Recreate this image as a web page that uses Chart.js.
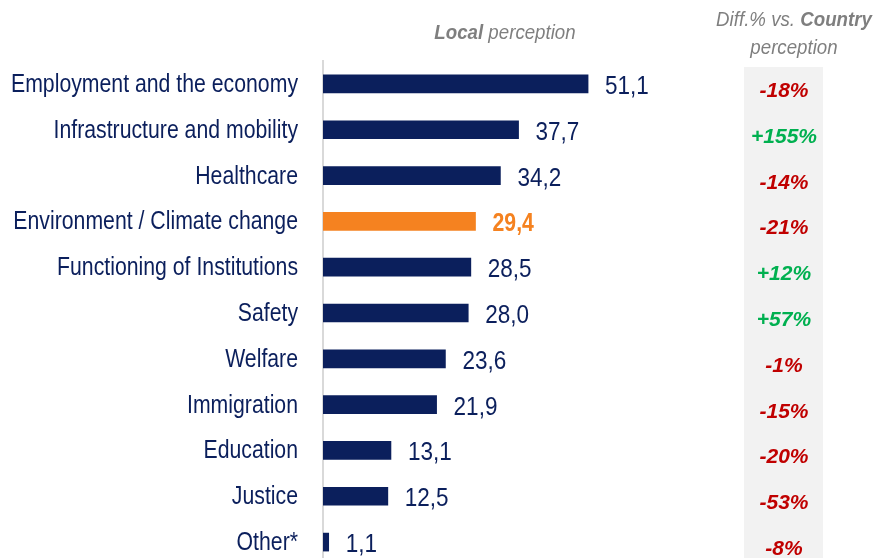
<!DOCTYPE html>
<html>
<head>
<meta charset="utf-8">
<script src="https://cdn.jsdelivr.net/npm/chart.js@4"></script>
<style>
  html, body { margin: 0; padding: 0; background: #fff; overflow: hidden; }
  #wrap { width: 874px; height: 565px; }
</style>
</head>
<body>
<div id="wrap"><canvas id="issues" width="874" height="565"></canvas></div>
<script>
// local perception of the main issues, with diff vs. country
const categories = [
    'Employment and the economy',
    'Infrastructure and mobility',
    'Healthcare',
    'Environment / Climate change',
    'Functioning of Institutions',
    'Safety',
    'Welfare',
    'Immigration',
    'Education',
    'Justice',
    'Other*'
];
const localValues = [51.1, 37.7, 34.2, 29.4, 28.5, 28.0, 23.6, 21.9, 13.1, 12.5, 1.1];
const diffVsCountry = ['-18%', '+155%', '-14%', '-21%', '+12%', '+57%', '-1%', '-15%', '-20%', '-53%', '-8%'];
const highlighted = 'Environment / Climate change';

const navy = '#0b1f5c';
const orange = '#f58220';
const red = '#c00000';
const green = '#00b050';
const FONT = '"Liberation Sans", Arial, sans-serif';

let barColors = categories.map(c => c === highlighted ? orange : navy);

// the source uses a condensed Arial, so squeeze the text a little
function squeezedText(ctx, text, x, y, sx) {
    ctx.save();
    ctx.translate(x, y);
    ctx.scale(sx, 1);
    ctx.fillText(text, 0, 0);
    ctx.restore();
}

// category names left of the axis and values at the end of the bars
const barTexts = {
    id: 'barTexts',
    afterDatasetsDraw(chart) {
        let ctx = chart.ctx;
        let meta = chart.getDatasetMeta(0);
        ctx.save();
        ctx.textBaseline = 'alphabetic';
        meta.data.forEach((bar, i) => {
            let hot = categories[i] === highlighted;
            // category (cap height of 25px Arial is ~18px)
            ctx.textAlign = 'right';
            ctx.fillStyle = navy;
            ctx.font = '25px ' + FONT;
            squeezedText(ctx, chart.data.labels[i], chart.chartArea.left - 25, bar.y + 8, 0.85);
            // value
            ctx.textAlign = 'left';
            ctx.fillStyle = hot ? orange : navy;
            ctx.font = (hot ? 'bold ' : '') + '25px ' + FONT;
            squeezedText(ctx, localValues[i].toFixed(1).replace('.', ','), bar.x + 17, bar.y + 10, hot ? 0.85 : 0.9);
        });
        ctx.restore();
    }
};

// grey column with the diff % and the two headers
const diffColumn = {
    id: 'diffColumn',
    beforeDraw(chart) {
        let ctx = chart.ctx;
        ctx.save();
        ctx.fillStyle = '#f2f2f2';
        ctx.fillRect(744, 67, 79, chart.height - 67);

        ctx.fillStyle = '#7f7f7f';
        ctx.textBaseline = 'middle';
        ctx.textAlign = 'left';
        let sx = 0.89;
        let b = 'italic bold 21px ' + FONT;
        let r = 'italic 21px ' + FONT;
        // Local perception
        ctx.font = b;
        let w1 = ctx.measureText('Local').width * sx;
        ctx.font = r;
        let w2 = ctx.measureText(' perception').width * sx;
        let x0 = 505 - (w1 + w2) / 2;
        ctx.font = b;
        squeezedText(ctx, 'Local', x0, 33, sx);
        ctx.font = r;
        squeezedText(ctx, ' perception', x0 + w1, 33, sx);

        // Diff.% vs. Country perception
        ctx.font = r;
        let w3 = ctx.measureText('Diff.% vs. ').width * sx;
        ctx.font = b;
        let w4 = ctx.measureText('Country').width * sx;
        x0 = 794 - (w3 + w4) / 2;
        ctx.font = r;
        squeezedText(ctx, 'Diff.% vs. ', x0, 20, sx);
        ctx.font = b;
        squeezedText(ctx, 'Country', x0 + w3, 20, sx);
        ctx.font = r;
        ctx.textAlign = 'center';
        squeezedText(ctx, 'perception', 794, 48, sx);
        ctx.restore();
    },
    afterDatasetsDraw(chart) {
        let ctx = chart.ctx;
        let yScale = chart.scales.y;
        ctx.save();
        ctx.textAlign = 'center';
        ctx.textBaseline = 'alphabetic';
        ctx.font = 'italic bold 21px ' + FONT;
        diffVsCountry.forEach((d, i) => {
            ctx.fillStyle = d.startsWith('+') ? green : red;
            ctx.fillText(d, 784, yScale.getPixelForValue(i) + 13);
        });
        ctx.restore();
    }
};

var ctx = document.getElementById('issues').getContext('2d');
new Chart(ctx, {
    type: 'bar',
    data: {
        labels: categories,
        datasets: [{
            label: 'Local perception',
            data: localValues,
            backgroundColor: barColors,
            barThickness: 18
        }]
    },
    options: {
        indexAxis: 'y',
        responsive: false,
        animation: false,
        layout: {
            padding: { top: 61, right: 136, bottom: 0, left: 0 }
        },
        plugins: {
            legend: { display: false },
            tooltip: { enabled: false }
        },
        scales: {
            x: {
                display: false,
                min: 0,
                max: 80
            },
            y: {
                grid: { display: false, drawTicks: false },
                border: { display: true, color: '#d9d9d9', width: 2 },
                ticks: { display: false },
                afterFit(scale) {
                    scale.width = 323;
                    scale.paddingTop = 0;
                    scale.paddingBottom = 0;
                }
            }
        }
    },
    plugins: [diffColumn, barTexts]
});
</script>
</body>
</html>
